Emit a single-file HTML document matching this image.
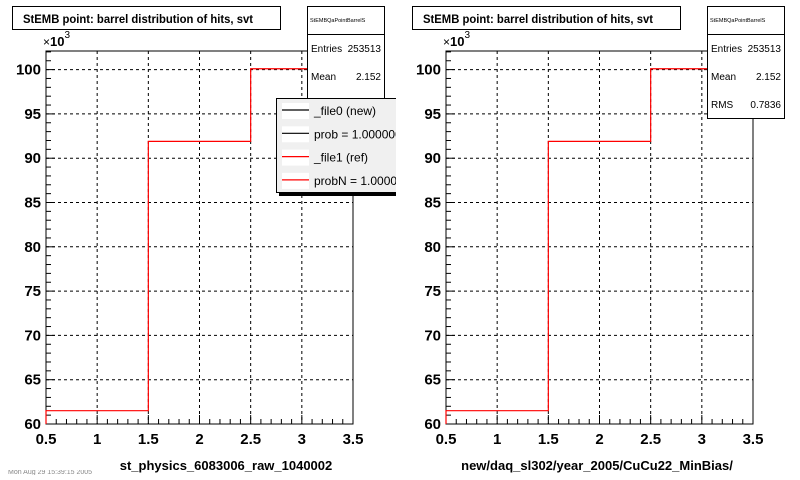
<!DOCTYPE html>
<html><head><meta charset="utf-8"><style>
body{margin:0;background:#fff;width:800px;height:480px;overflow:hidden;font-family:"Liberation Sans",Arial,sans-serif}
svg{position:absolute;top:0}
</style></head><body>
<svg id="padL" width="396" height="480" style="left:0"></svg>
<svg id="padR" width="400" height="480" style="left:400px"></svg>
<div style="position:absolute;left:8px;top:470px;font-size:7px;color:#888;height:5px;overflow:hidden;line-height:5px">Mon Aug 29 15:39:15 2005</div>
<script>
const binEdges=[0.5,1.5,2.5,3.5];
const binValues=[61.5,91.9,100.1];
const xTicks=[0.5,1,1.5,2,2.5,3,3.5];
const xTickLabels=["0.5","1","1.5","2","2.5","3","3.5"];
const yTicks=[60,65,70,75,80,85,90,95,100];
const yTickLabels=["60","65","70","75","80","85","90","95","100"];
const xMin=0.5,xMax=3.5,yMin=60,yMax=102.1;
const NS="http://www.w3.org/2000/svg";
function mk(p,t,a,txt){const e=document.createElementNS(NS,t);for(const k in a)e.setAttribute(k,a[k]);if(txt!==undefined)e.textContent=txt;p.appendChild(e);return e;}
function draw(svg,opt){
  const L=46,R=353,T=51,B=424;
  const X=v=>L+(v-xMin)/(xMax-xMin)*(R-L);
  const Y=v=>B-(v-yMin)/(yMax-yMin)*(B-T);
  const g=mk(svg,'g',{});
  
  
  xTicks.forEach(v=>{if(v>xMin&&v<xMax){const l=mk(g,'line',{x1:X(v),x2:X(v),y1:T,y2:B,stroke:'#000','stroke-dasharray':'3,3','stroke-width':1});}});
  yTicks.forEach(v=>{if(v>yMin){const l=mk(g,'line',{x1:L,x2:R,y1:Y(v),y2:Y(v),stroke:'#000','stroke-dasharray':'3,3','stroke-width':1});}});
  const fr=mk(svg,'rect',{x:L,y:T,width:R-L,height:B-T,fill:'none',stroke:'#000','stroke-width':1});
  
  
  for(let i=0;i<=30;i++){const v=xMin+i*0.1;const major=Math.abs(v*2-Math.round(v*2))<1e-6;mk(svg,'line',{x1:X(v),x2:X(v),y1:B,y2:B-(major?9:5),stroke:'#000'});}
  for(let v=yMin;v<=yMax;v+=1){const major=v%5===0;mk(svg,'line',{x1:L,x2:L+(major?9:5),y1:Y(v),y2:Y(v),stroke:'#000'});}
  xTicks.forEach((v,i)=>{const t=mk(svg,'text',{x:X(v),y:B+20,'text-anchor':'middle','font-size':15,'font-weight':'bold'},xTickLabels[i]);});
  yTicks.forEach((v,i)=>{const t=mk(svg,'text',{x:L-5,y:Y(v)+5,'text-anchor':'end','font-size':15,'font-weight':'bold'},yTickLabels[i]);});
  const ex=mk(svg,'text',{x:L-3,y:T-5,'font-size':13,'font-weight':'bold'});ex.innerHTML='<tspan font-weight="normal" font-size="12">×</tspan>10<tspan dy="-8" font-size="10" font-weight="normal">3</tspan>';
  
  let d='';binValues.forEach((v,i)=>{d+=(i===0?'M':'L')+X(binEdges[i])+','+Y(v)+'L'+X(binEdges[i+1])+','+Y(v);});
  d='M'+X(binEdges[0])+','+B+d.replace(/^M/,'L')+'L'+X(binEdges[binEdges.length-1])+','+Y(binValues[binValues.length-1]);
  const h=mk(svg,'path',{d:d,fill:'none',stroke:'#f00','stroke-width':1.2});
  
  const tb=mk(svg,'rect',{x:12.5,y:6.5,width:268,height:23,fill:'#fff',stroke:'#000'});
  
  const tt=mk(svg,'text',{x:23,y:23,'font-size':12,'font-weight':'bold',textLength:230,lengthAdjust:'spacingAndGlyphs'},'StEMB point: barrel distribution of hits, svt');
  
  const at=mk(svg,'text',{x:opt.xtx,y:470,'font-size':13,'font-weight':'bold','text-anchor':'middle'},opt.xtitle);
  
  const sb=mk(svg,'g',{});
  mk(sb,'rect',{x:307.5,y:6.5,width:77,height:112,fill:'#fff',stroke:'#000'});
  mk(sb,'line',{x1:307.5,x2:384.5,y1:34.5,y2:34.5,stroke:'#000'});
  mk(sb,'text',{x:310,y:22,'font-size':5.5},'StEMBQaPointBarrelS');
  mk(sb,'text',{x:311,y:52,'font-size':10},'Entries');
  mk(sb,'text',{x:381,y:52,'font-size':10,'text-anchor':'end'},'253513');
  mk(sb,'text',{x:311,y:80,'font-size':10},'Mean');
  mk(sb,'text',{x:381,y:80,'font-size':10,'text-anchor':'end'},'2.152');
  mk(sb,'text',{x:311,y:108,'font-size':10},'RMS');
  mk(sb,'text',{x:381,y:108,'font-size':10,'text-anchor':'end'},'0.7836');
  if(opt.legend){
    const lg=mk(svg,'g',{});
    mk(lg,'rect',{x:279,y:100,width:130,height:96,fill:'#000'});
    mk(lg,'rect',{x:276.5,y:98.5,width:130,height:94,fill:'#f0f0f0',stroke:'#000'});
    const items=[['_file0 (new)','#000'],['prob = 1.000000','#000'],['_file1 (ref)','#f00'],['probN = 1.000000','#f00']];
    items.forEach((it,i)=>{const y=110+i*23.3;
      const e=mk(lg,'g',{});
      mk(e,'rect',{x:282,y:y-7,width:27,height:16,fill:'#fff'});
      mk(e,'line',{x1:282,x2:309,y1:y,y2:y,stroke:it[1],'stroke-width':1.2});
      mk(e,'text',{x:314,y:y+5,'font-size':12},it[0]);});
  }
}
draw(document.getElementById('padL'),{xtitle:'st_physics_6083006_raw_1040002',xtx:226,legend:true});
draw(document.getElementById('padR'),{xtitle:'new/daq_sl302/year_2005/CuCu22_MinBias/',xtx:197,legend:false});
</script>
</body></html>
